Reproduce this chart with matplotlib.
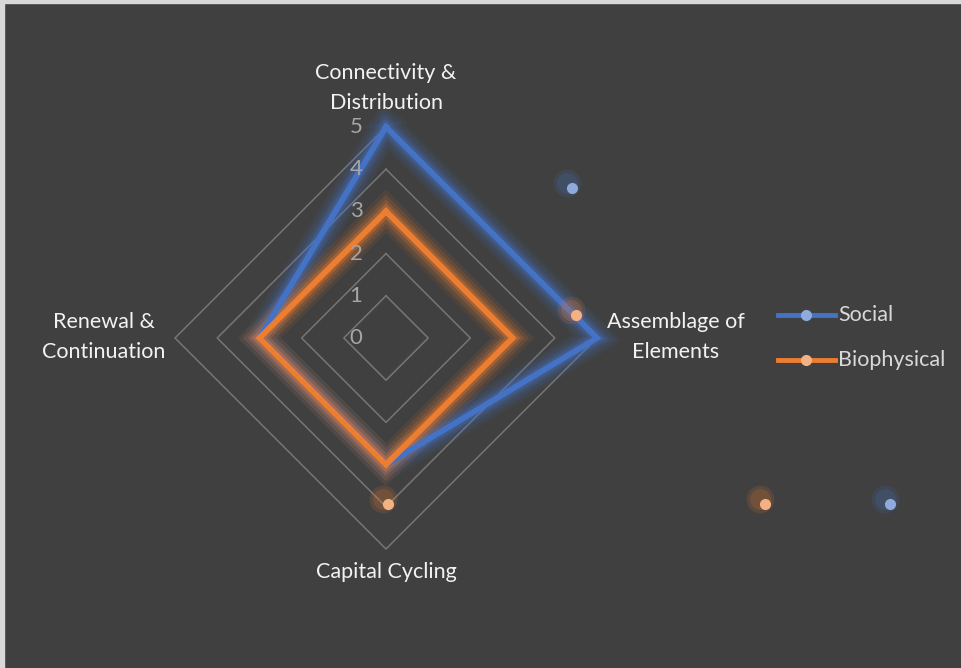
import numpy as np
import matplotlib
matplotlib.use("Agg")
import matplotlib.pyplot as plt
from matplotlib.patches import Rectangle

categories = ["Connectivity &\nDistribution", "Assemblage of\nElements", "Capital Cycling", "Renewal &\nContinuation"]
social = [5, 5, 3, 3]
biophysical = [3, 3, 3, 3]
tick_values = [0, 1, 2, 3, 4, 5]
series_names = ["Social", "Biophysical"]

BG = "#404040"
BLUE = "#4472C4"
ORANGE = "#ED7D31"
BLUE_L = "#8FAADC"
ORANGE_L = "#F4B183"
GRID = "#767676"

plt.rcParams['font.family'] = ['Lato', 'DejaVu Sans']

fig = plt.figure(figsize=(9.62, 6.68), dpi=100, facecolor=BG)
# light border on top/left
fig.patches.append(Rectangle((0, 0), 4/962, 1, transform=fig.transFigure, color="#d9d9d9", zorder=0))
fig.patches.append(Rectangle((0, 1-3/668), 1, 3/668, transform=fig.transFigure, color="#d9d9d9", zorder=0))

cx, cy, R = 386, 338, 211
ax = fig.add_axes([(cx-R)/962, (668-cy-R)/668, 2*R/962, 2*R/668], projection='polar')
ax.set_facecolor("none")
ax.set_theta_offset(np.pi/2)
ax.set_theta_direction(-1)
ax.set_ylim(0, 5)
ax.grid(False)
ax.spines['polar'].set_visible(False)
ax.set_xticks([])
ax.set_yticks([])

n = len(categories)
angles = np.linspace(0, 2*np.pi, n, endpoint=False)
closed = np.concatenate([angles, angles[:1]])

# polygon grid
for v in tick_values[1:]:
    ax.plot(closed, [v]*(n+1), color=GRID, lw=1.1, zorder=1, clip_on=False)

def glow_line(vals, color, glow):
    vv = list(vals) + [vals[0]]
    for w, a in [(22, 0.09), (17, 0.13), (12, 0.2), (8, 0.3)]:
        ax.plot(closed, vv, color=glow, lw=w, alpha=a, solid_joinstyle='miter', zorder=2, clip_on=False)
    ax.plot(closed, vv, color=color, lw=4.2, solid_joinstyle='miter', zorder=3, clip_on=False)

glow_line(social, BLUE, BLUE)
glow_line(biophysical, ORANGE, ORANGE)

# tick labels
for v in tick_values:
    x = cx - 30
    y = cy - v * R / 5
    fig.text(x/962, 1 - y/668, str(v), color="#a6a6a6", fontsize=16, ha='center', va='center')

# category labels
label_pos = [(386, 88), (676, 337), (386, 572), (104, 337)]
for lab, (x, y) in zip(categories, label_pos):
    fig.text(x/962, 1 - y/668, lab, color="#f2f2f2", fontsize=15.5, ha='center', va='center', linespacing=1.6)

# legend
leg_items = [(BLUE, BLUE_L, 315), (ORANGE, ORANGE_L, 360)]
for name, (c, cl, y) in zip(series_names, leg_items):
    yy = 1 - y/668
    fig.add_artist(plt.Line2D([778/962, 835/962], [yy, yy], color=c, lw=3.5, transform=fig.transFigure))
    fig.add_artist(plt.Line2D([806/962], [yy], marker='o', ms=7, color=cl, mec=cl, transform=fig.transFigure))
    fig.text(838/962, yy, name, color="#d9d9d9", fontsize=15.5, ha='left', va='center')

# stray rendering markers seen in the reference
for (x, y, c, cl) in [(572, 188, BLUE, BLUE_L), (576, 315, ORANGE, ORANGE_L), (388, 504, ORANGE, ORANGE_L),
                      (765, 504, ORANGE, ORANGE_L), (890, 504, BLUE, BLUE_L)]:
    for ms, a in [(20, 0.14), (15, 0.18)]:
        fig.add_artist(plt.Line2D([(x-5)/962], [1-(y-5)/668], marker='o', ms=ms, color=c, mec='none', alpha=a,
                                  transform=fig.transFigure))
    fig.add_artist(plt.Line2D([x/962], [1-y/668], marker='o', ms=7, color=cl, mec=cl, transform=fig.transFigure))

fig.savefig("out.png", dpi=100, facecolor=BG)
